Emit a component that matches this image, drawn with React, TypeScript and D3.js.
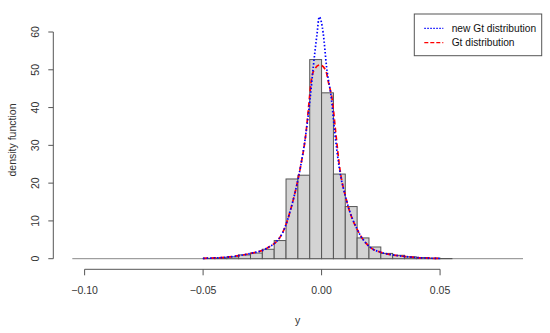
import React from 'react';
import * as d3 from 'd3';

// histogram: bin start (y) and density
const binStarts = [-0.05, -0.045, -0.04, -0.035, -0.03, -0.025, -0.02, -0.015, -0.01, -0.005,
  0, 0.005, 0.01, 0.015, 0.02, 0.025, 0.03, 0.035, 0.04, 0.045, 0.05];
const binDensity = [0.1, 0.2, 0.5, 1.0, 1.5, 2.5, 4.8, 21.1, 22.1, 52.7,
  43.9, 22.4, 13.8, 5.5, 3.1, 1.4, 0.9, 0.5, 0.3, 0.15, 0.05];
const binWidth = 0.005;

// new Gt distribution (blue dotted)
const newGtX = [-0.05, -0.045, -0.04, -0.035, -0.03, -0.023, -0.0166, -0.012, -0.0089, -0.0066,
  -0.0049, -0.0035, -0.0019, -0.001, 0.0007, 0.0021, 0.0042, 0.0056, 0.0074, 0.0105,
  0.0159, 0.021, 0.025, 0.03, 0.035, 0.04, 0.045, 0.05];
const newGtY = [0.1, 0.2, 0.4, 0.8, 1.4, 2.8, 6.7, 15.5, 24.3, 33.2,
  42, 50.8, 59.6, 64, 59.6, 50.8, 42, 33.2, 24.3, 15.5,
  6.7, 2.8, 1.7, 1.0, 0.6, 0.3, 0.15, 0.05];

// Gt distribution (red dashed)
const gtX = [-0.05, -0.045, -0.04, -0.035, -0.03, -0.023, -0.0166, -0.012, -0.0089, -0.0066,
  -0.0052, -0.0045, -0.0032, -0.0007, 0.0017, 0.003, 0.0045, 0.006, 0.0076, 0.0105,
  0.0159, 0.021, 0.025, 0.03, 0.035, 0.04, 0.045, 0.05];
const gtY = [0.1, 0.2, 0.4, 0.8, 1.4, 2.8, 6.7, 15.5, 24.3, 33.2,
  42, 46.4, 49.9, 51.3, 49.9, 46.4, 42, 33.2, 24.3, 15.5,
  6.7, 2.8, 1.7, 1.0, 0.6, 0.3, 0.15, 0.05];

const xTicks = [-0.1, -0.05, 0, 0.05];
const yTicks = [0, 10, 20, 30, 40, 50, 60];
const legendLabels = ['new Gt distribution', 'Gt distribution'];

const W = 550;
const H = 333;
const font = '"Liberation Sans", Arial, sans-serif';
const txt = '#333';
const axisCol = '#555';

const App = () => {
  const x = d3.scaleLinear().domain([-0.1052, 0.085]).range([72.3, 523]);
  const y = d3.scaleLinear().domain([0, 60]).range([258.7, 32]);

  const line = d3.line<[number, number]>()
    .x(d => x(d[0]))
    .y(d => y(d[1]))
    .curve(d3.curveMonotoneX);

  const blue = newGtX.map((v, i) => [v, newGtY[i]] as [number, number]);
  const red = gtX.map((v, i) => [v, gtY[i]] as [number, number]);

  const xAxisY = 269.3;
  const yAxisX = 53.3;
  const plotMidX = (x.range()[0] + x.range()[1]) / 2;

  return (
    <svg width={W} height={H} style={{ position: 'absolute', left: 0, top: 0, background: '#fff' }}
      fontFamily={font}>
      {/* zero baseline */}
      <line x1={x.range()[0]} x2={x.range()[1]} y1={y(0)} y2={y(0)} stroke="#888" strokeWidth={1} />

      {/* histogram bars */}
      {binStarts.map((b, i) => (
        <rect key={i} x={x(b)} y={y(binDensity[i])} width={x(b + binWidth) - x(b)}
          height={y(0) - y(binDensity[i])} fill="#d3d3d3" stroke="#555" strokeWidth={1} />
      ))}

      {/* density curves */}
      <path d={line(red) || ''} fill="none" stroke="#ff0000" strokeWidth={1.7} strokeDasharray="5,3" />
      <path d={line(blue) || ''} fill="none" stroke="#0000ff" strokeWidth={1.7} strokeDasharray="1.5,2" />

      {/* x axis */}
      <line x1={x(xTicks[0])} x2={x(xTicks[xTicks.length - 1])} y1={xAxisY} y2={xAxisY} stroke={axisCol} />
      {xTicks.map(t => (
        <g key={t}>
          <line x1={x(t)} x2={x(t)} y1={xAxisY} y2={xAxisY + 6} stroke={axisCol} />
          <text x={x(t)} y={xAxisY + 25} textAnchor="middle" fontSize={10.5} fill={txt}>
            {t === 0 ? '0.00' : d3.format('.2f')(t)}
          </text>
        </g>
      ))}
      <text x={plotMidX} y={324} textAnchor="middle" fontSize={10.5} fill={txt}>y</text>

      {/* y axis */}
      <line x1={yAxisX} x2={yAxisX} y1={y(0)} y2={y(60)} stroke={axisCol} />
      {yTicks.map(t => (
        <g key={t}>
          <line x1={yAxisX - 5} x2={yAxisX} y1={y(t)} y2={y(t)} stroke={axisCol} />
          <text transform={`translate(${yAxisX - 14.5},${y(t)}) rotate(-90)`} textAnchor="middle"
            fontSize={10.5} fill={txt}>{t}</text>
        </g>
      ))}
      <text transform={`translate(15.5,${140}) rotate(-90)`} textAnchor="middle" fontSize={10.5} fill={txt}>
        density function
      </text>

      {/* legend */}
      <rect x={414.3} y={14} width={127.4} height={41.7} fill="#fff" stroke={axisCol} />
      <line x1={424.3} x2={443.3} y1={28.3} y2={28.3} stroke="#0000ff" strokeWidth={1.2} strokeDasharray="1.5,1.5" />
      <line x1={424.3} x2={443.3} y1={42.7} y2={42.7} stroke="#ff0000" strokeWidth={1.2} strokeDasharray="4,2" />
      {legendLabels.map((l, i) => (
        <text key={l} x={451.7} y={28.3 + i * 14.4} dy="0.35em" fontSize={10.2} fill="#111">{l}</text>
      ))}
    </svg>
  );
};

export default App;
